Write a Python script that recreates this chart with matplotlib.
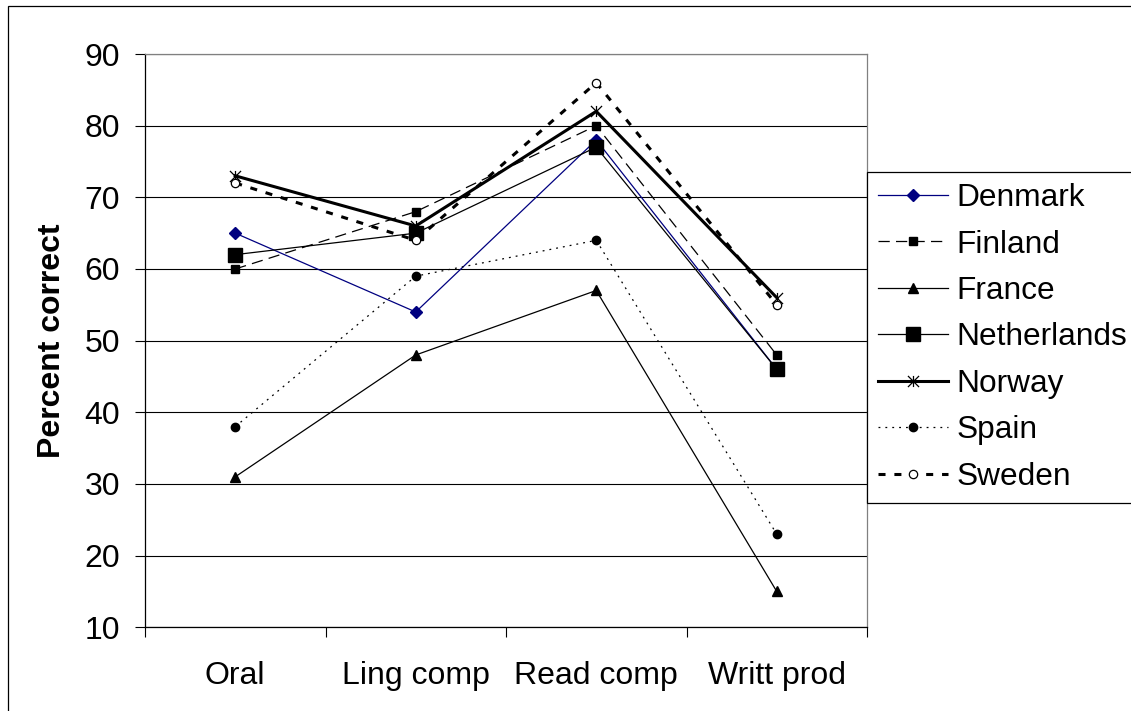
import matplotlib
matplotlib.use("Agg")
import matplotlib.pyplot as plt
from matplotlib.path import Path
from matplotlib.patches import Rectangle

plt.rcParams["font.family"] = ["Liberation Sans", "DejaVu Sans"]

categories = ["Oral", "Ling comp", "Read comp", "Writt prod"]
denmark = [65, 54, 78, 46]
finland = [60, 68, 80, 48]
france = [31, 48, 57, 15]
netherlands = [62, 65, 77, 46]
norway = [73, 66, 82, 56]
spain = [38, 59, 64, 23]
sweden = [72, 64, 86, 55]
y_ticks = [10, 20, 30, 40, 50, 60, 70, 80, 90]

# Excel style asterisk: vertical stroke plus an X
star = Path(
    [(0, -1), (0, 1), (-1, -1), (1, 1), (-1, 1), (1, -1)],
    [Path.MOVETO, Path.LINETO, Path.MOVETO, Path.LINETO, Path.MOVETO, Path.LINETO],
)

series = [
    ("Denmark", denmark, dict(color="#000080", lw=0.9, marker="D", ms=6, mfc="#000080", mec="#000080")),
    ("Finland", finland, dict(color="black", lw=0.9, dashes=(9, 5), marker="s", ms=6)),
    ("France", france, dict(color="black", lw=0.9, marker="^", ms=7)),
    ("Netherlands", netherlands, dict(color="black", lw=0.9, marker="s", ms=10)),
    ("Norway", norway, dict(color="black", lw=2.2, marker=star, ms=8, mfc="none", mew=0.9)),
    ("Spain", spain, dict(color="black", lw=0.9, dashes=(1.5, 4), marker="o", ms=6)),
    ("Sweden", sweden, dict(color="black", lw=2.2, dashes=(2.3, 2.9), marker="o", ms=6, mfc="white", mew=0.9)),
]

fig = plt.figure(figsize=(11.31, 7.11), dpi=100)
ax = fig.add_axes([145 / 1131, 1 - 627.3 / 711, 722 / 1131, 573.3 / 711])

x = [i + 0.5 for i in range(len(categories))]
for name, values, style in series:
    ax.plot(x, values, label=name, mec=style.pop("mec", "black"), **style)

ax.set_xlim(0, len(categories))
ax.set_ylim(10, 90)
ax.set_yticks(y_ticks)
ax.grid(axis="y", color="black", lw=0.8)
ax.set_axisbelow(True)

# Category boundaries get ticks, names sit between them
ax.set_xticks(range(len(categories) + 1))
ax.set_xticklabels([])
ax.set_xticks(x, minor=True)
ax.set_xticklabels(categories, minor=True)
ax.tick_params(axis="x", which="major", direction="out", length=7, width=0.8)
ax.tick_params(axis="x", which="minor", length=0, pad=24, labelsize=23)
ax.tick_params(axis="y", direction="out", length=7, width=0.8, pad=11, labelsize=23)

ax.spines["top"].set_color("#808080")
ax.spines["right"].set_color("#808080")
for s in ax.spines.values():
    s.set_linewidth(0.9)

ax.set_ylabel("Percent correct", fontsize=23, fontweight="bold")
ax.yaxis.set_label_coords(-0.108, 0.5)

leg = ax.legend(
    loc="upper left",
    bbox_to_anchor=(867 / 1131, 1 - 172 / 711),
    bbox_transform=fig.transFigure,
    borderaxespad=0,
    fontsize=22.8,
    handlelength=2.2,
    handletextpad=0.28,
    borderpad=0.35,
    labelspacing=0.52,
    fancybox=False,
    framealpha=1,
    edgecolor="black",
)
leg.get_frame().set_linewidth(0.9)

# Chart area border, runs off the right and bottom edge
fig.patches.append(
    Rectangle((8 / 1131, -1), 2, 2 - 6 / 711, transform=fig.transFigure,
              fill=False, edgecolor="black", lw=0.9)
)

fig.savefig("out.png", dpi=100)
